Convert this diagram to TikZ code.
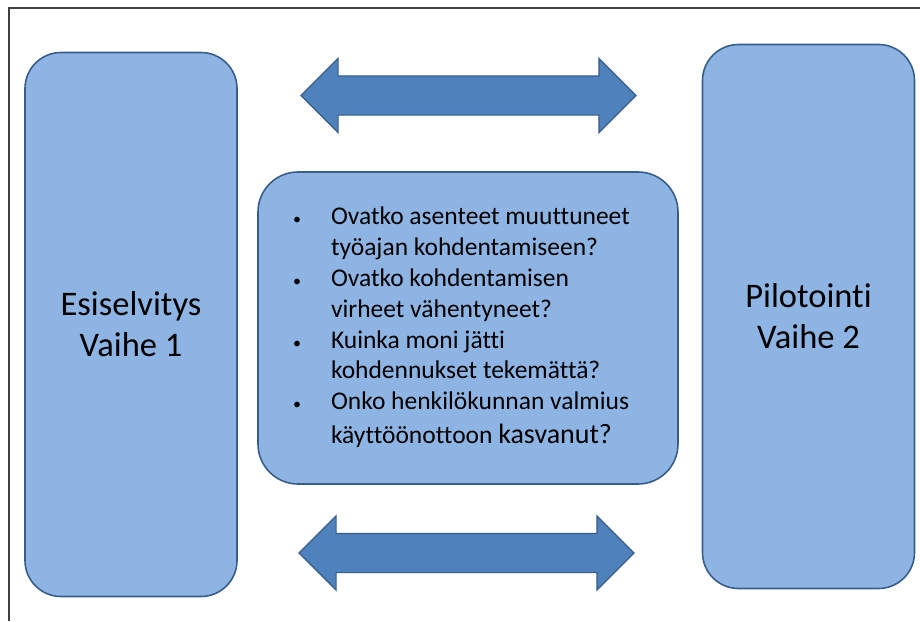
\documentclass[tikz,border=0pt]{standalone}
\usepackage{fontspec}
\setmainfont{Carlito}[Ligatures=NoCommon]
\usetikzlibrary{shapes.arrows}
\definecolor{phasefill}{HTML}{8EB4E3}
\definecolor{phaseline}{HTML}{385D8A}
\definecolor{arrowfill}{HTML}{4F81BD}
\newcommand{\qbullet}{{\fontsize{16}{16}\selectfont\textbullet}}

\begin{document}
\begin{tikzpicture}[x=1pt,y=-1pt,
    phase/.style={draw=phaseline,fill=phasefill,line width=1.6pt,rounded corners=36pt,
      minimum width=212pt,minimum height=544pt,align=center,inner sep=0pt,
      font=\fontsize{34.5}{41}\selectfont},
    qbox/.style={draw=phaseline,fill=phasefill,line width=1.6pt,rounded corners=40pt,
      minimum width=420pt,minimum height=312pt,inner sep=0pt,
      font=\fontsize{25.5}{30.8}\selectfont},
    twoway/.style={double arrow,draw=phaseline,fill=arrowfill,line width=1.2pt,
      minimum height=335pt,minimum width=73pt,double arrow head extend=17.5pt,inner sep=0pt}]
            \useasboundingbox (0,0) rectangle (920,621);
            \draw[line width=1.5pt,black!75] (9,621) -- (9,8) -- (920,8);
            \node[phase] (esiselvitys) at (131,324.5) {Esiselvitys\\Vaihe 1};
            \node[phase] (pilotointi) at (808.5,316.5) {Pilotointi\\Vaihe 2};
            \node[twoway] (toparrow) at (468.5,95.5) {\rule{0pt}{38pt}};
            \node[twoway] (bottomarrow) at (466.5,553) {\rule{0pt}{38pt}};
            \node[qbox] (questions) at (468,328) {\begin{tabular}{@{}p{38pt}@{}p{312pt}@{}}
              \qbullet & Ovatko asenteet muuttuneet\\
               & työajan kohdentamiseen?\\
              \qbullet & Ovatko kohdentamisen\\
               & virheet vähentyneet?\\
              \qbullet & Kuinka moni jätti\\
               & kohdennukset tekemättä?\\
              \qbullet & Onko henkilökunnan valmius\\[3pt]
               & käyttöönottoon {\fontsize{28}{34}\selectfont kasvanut?}
            \end{tabular}};
\end{tikzpicture}
\end{document}
